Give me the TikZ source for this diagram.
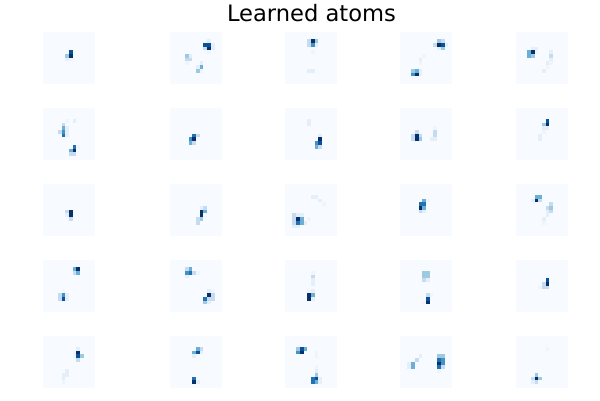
\documentclass[tikz,border=0pt]{standalone}
\usepackage{fontspec}
\setmainfont{DejaVu Sans}
\usepackage{tikz}
\definecolor{atombg}{HTML}{F7FBFF}
\definecolor{b0}{HTML}{EEF5FC}
\definecolor{b1}{HTML}{E4EFF9}
\definecolor{b2}{HTML}{C6DBEF}
\definecolor{b3}{HTML}{9ECAE1}
\definecolor{b4}{HTML}{6BAED6}
\definecolor{b5}{HTML}{4292C6}
\definecolor{b6}{HTML}{2171B5}
\definecolor{b7}{HTML}{08519C}
\definecolor{b8}{HTML}{08306B}
\newcommand{\atomsize}{52}
\newcommand{\cellsize}{3.7143}
\newcommand{\drawatom}[2]{
	\begin{scope}[shift={(#1)}]
	\fill[atombg] (0,0) rectangle (\atomsize,\atomsize);
	\foreach \i/\j/\c in {#2}
		\fill[\c] (\i*\cellsize,\j*\cellsize) rectangle ++(\cellsize,\cellsize);
	\end{scope}
}

\begin{document}
\begin{tikzpicture}[x=1pt,y=-1pt]
	\useasboundingbox (0,0) rectangle (600,400);
	\node[anchor=base, font=\fontsize{22.6}{26}\selectfont] (title) at (311.5,21) {Learned atoms};

	\coordinate (A11) at (43,31.7);
	\coordinate (A12) at (170,31.7);
	\coordinate (A13) at (285,31.7);
	\coordinate (A14) at (400,31.7);
	\coordinate (A15) at (516,31.7);
	\coordinate (A21) at (43,107.7);
	\coordinate (A22) at (170,107.7);
	\coordinate (A23) at (285,107.7);
	\coordinate (A24) at (400,107.7);
	\coordinate (A25) at (516,107.7);
	\coordinate (A31) at (43,183.7);
	\coordinate (A32) at (170,183.7);
	\coordinate (A33) at (285,183.7);
	\coordinate (A34) at (400,183.7);
	\coordinate (A35) at (516,183.7);
	\coordinate (A41) at (43,259.7);
	\coordinate (A42) at (170,259.7);
	\coordinate (A43) at (285,259.7);
	\coordinate (A44) at (400,259.7);
	\coordinate (A45) at (516,259.7);
	\coordinate (A51) at (43,335.7);
	\coordinate (A52) at (170,335.7);
	\coordinate (A53) at (285,335.7);
	\coordinate (A54) at (400,335.7);
	\coordinate (A55) at (516,335.7);

	\drawatom{A11}{7/5/b7, 7/6/b8, 6/6/b3, 6/7/b1, 7/7/b0}
	\drawatom{A12}{10/2/b1, 9/3/b7, 10/3/b7, 11/3/b1, 9/4/b2, 10/4/b8, 11/4/b1, 10/5/b0, 4/6/b3, 5/6/b1, 4/7/b2, 5/7/b2, 4/8/b0, 8/8/b1, 7/9/b1, 8/9/b4, 7/10/b3, 8/10/b0}
	\drawatom{A13}{6/2/b2, 7/2/b8, 8/2/b3, 6/3/b2, 7/3/b5, 8/3/b1, 7/5/b0, 6/10/b1, 7/10/b1}
	\drawatom{A14}{10/2/b3, 11/2/b2, 9/3/b2, 10/3/b8, 11/3/b7, 12/3/b1, 10/4/b1, 11/4/b3, 6/6/b0, 5/7/b1, 5/8/b0, 3/10/b3, 4/10/b4, 5/10/b1, 3/11/b5, 4/11/b8, 5/11/b1}
	\drawatom{A15}{4/4/b1, 5/4/b1, 3/5/b4, 4/5/b8, 5/5/b0, 3/6/b4, 4/6/b3, 9/5/b1, 9/6/b2, 9/7/b1, 8/8/b1, 9/8/b0, 8/9/b0, 7/10/b1}

	\drawatom{A21}{6/3/b0, 8/3/b1, 5/4/b2, 5/5/b4, 6/5/b1, 4/6/b2, 5/6/b5, 6/6/b1, 5/7/b6, 6/7/b1, 8/10/b6, 9/10/b0, 7/11/b4, 8/11/b8, 7/12/b2, 8/12/b2}
	\drawatom{A22}{6/7/b6, 7/7/b2, 5/8/b5, 6/8/b8, 5/9/b4, 6/9/b2}
	\drawatom{A23}{6/3/b1, 6/4/b1, 9/7/b1, 9/8/b8, 9/9/b7, 8/9/b5, 8/10/b4, 9/10/b2}
	\drawatom{A24}{4/6/b2, 3/7/b2, 4/7/b8, 5/7/b2, 3/8/b2, 4/8/b8, 5/8/b3, 9/5/b0, 9/6/b2, 9/7/b2, 8/8/b1, 9/8/b1}
	\drawatom{A25}{8/3/b7, 7/4/b3, 8/4/b8, 7/5/b1, 8/5/b1, 7/6/b0, 6/7/b1, 6/8/b1}

	\drawatom{A31}{7/7/b8, 7/8/b8, 6/7/b2, 6/8/b1, 7/9/b2}
	\drawatom{A32}{8/6/b1, 9/6/b2, 8/7/b8, 9/7/b4, 8/8/b8, 8/9/b3, 7/9/b2, 7/10/b2}
	\drawatom{A33}{7/3/b1, 8/3/b1, 9/4/b1, 10/5/b0, 6/9/b0, 2/8/b2, 3/8/b1, 4/8/b1, 2/9/b2, 3/9/b8, 4/9/b4, 2/10/b2, 3/10/b6, 4/10/b4, 5/10/b1, 2/11/b1, 3/11/b1}
	\drawatom{A34}{6/4/b4, 7/4/b0, 5/5/b6, 6/5/b6, 5/6/b8, 6/6/b4, 5/7/b2, 6/7/b1}
	\drawatom{A35}{5/3/b4, 6/3/b4, 4/4/b1, 5/4/b8, 6/4/b2, 9/5/b2, 8/6/b2, 9/6/b3, 8/7/b1, 9/7/b2, 8/8/b1, 7/9/b1, 7/10/b0}

	\drawatom{A41}{8/2/b4, 9/2/b8, 8/3/b2, 9/3/b4, 5/8/b0, 4/9/b2, 5/9/b5, 6/9/b1, 4/10/b2, 5/10/b7, 6/10/b1}
	\drawatom{A42}{4/2/b2, 5/2/b4, 4/3/b5, 5/3/b6, 6/3/b2, 7/3/b0, 4/4/b1, 10/8/b1, 11/8/b0, 10/9/b8, 11/9/b2, 9/10/b6, 10/10/b2, 11/10/b2, 9/11/b3, 10/11/b1}
	\drawatom{A43}{7/3/b0, 7/4/b2, 7/5/b1, 7/6/b1, 6/8/b0, 7/8/b1, 6/9/b8, 6/10/b8, 7/9/b4, 7/10/b1}
	\drawatom{A44}{6/3/b3, 7/3/b3, 6/4/b3, 7/4/b3, 6/5/b2, 7/5/b1, 7/9/b2, 8/9/b0, 7/10/b7, 7/11/b8, 6/11/b0}
	\drawatom{A45}{8/5/b7, 8/6/b8, 7/6/b2, 7/7/b2, 8/7/b2, 6/7/b0}

	\drawatom{A51}{9/3/b1, 8/4/b0, 9/4/b8, 9/5/b7, 10/5/b3, 8/5/b0, 9/6/b2, 6/9/b1, 5/10/b1, 6/10/b1, 5/11/b1, 5/12/b0}
	\drawatom{A52}{7/3/b4, 8/3/b2, 6/4/b4, 7/4/b7, 8/4/b1, 6/5/b1, 6/11/b6, 6/12/b8, 7/12/b1}
	\drawatom{A53}{3/3/b3, 4/3/b7, 5/3/b4, 3/4/b5, 4/4/b8, 8/4/b0, 8/5/b0, 8/8/b0, 8/9/b1, 8/10/b3, 7/11/b6, 8/11/b7, 9/11/b1, 7/12/b6, 8/12/b4, 9/12/b1}
	\drawatom{A54}{5/5/b1, 4/6/b2, 3/7/b4, 2/7/b1, 3/8/b4, 2/8/b1, 10/5/b3, 11/5/b3, 10/6/b6, 11/6/b5, 10/7/b8, 11/7/b5, 10/8/b6, 11/8/b2, 10/9/b0}
	\drawatom{A55}{5/10/b3, 4/11/b2, 5/11/b8, 6/11/b3, 4/12/b1, 5/12/b2, 8/3/b0}
\end{tikzpicture}
\end{document}
